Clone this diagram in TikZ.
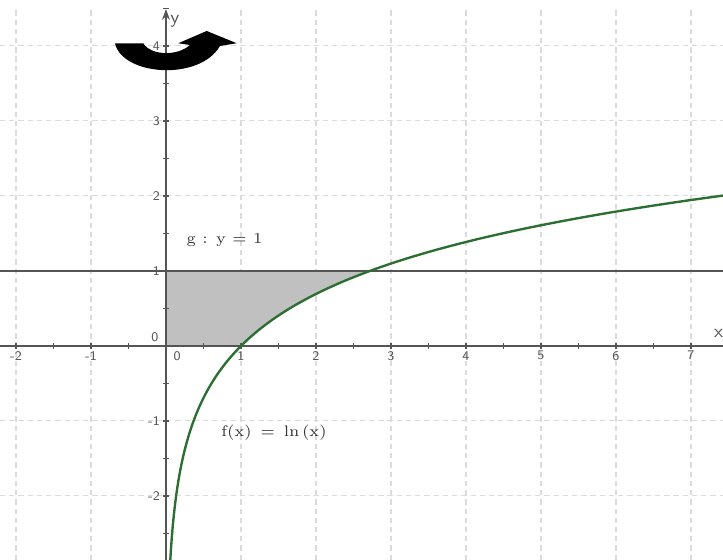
\documentclass[tikz,border=0pt]{standalone}
\usepackage{tikz}
\usetikzlibrary{arrows.meta}
\definecolor{lnGreen}{RGB}{45,110,50}
\definecolor{axGray}{RGB}{85,85,85}
\definecolor{areaGray}{RGB}{192,192,192}

\begin{document}
\begin{tikzpicture}[x=1cm, y=1cm,
    gridline/.style={gray!28, dash pattern=on 2pt off 1.5pt, line width=0.4pt},
    axisline/.style={axGray, line width=0.6pt},
    ticklbl/.style={font=\tiny\sffamily, text=axGray, inner sep=1pt},
    fnlbl/.style={font=\fontsize{5.8}{7}\selectfont, text=black!80}]
  \useasboundingbox (-2.213,-2.853) rectangle (7.427,4.613);

  % Grid
  \foreach \gx in {-2,...,7}
    \draw[gridline] (\gx,-2.853) -- (\gx,4.48);
  \foreach \gy in {-2,...,4}
    \draw[gridline] (-2.213,\gy) -- (7.427,\gy);

  % Area between y-axis, x-axis, ln and g
  \fill[areaGray] (0,0) -- (1,0) -- plot[domain=0:1, samples=40] ({exp(\x)},\x) -- (0,1) -- cycle;

  % g : y = 1
  \draw[axGray, line width=0.8pt] (-2.213,1) -- (7.427,1);

  % Axes
  \draw[axisline] (-2.213,0) -- (7.427,0);
  \draw[axisline, -{Stealth[length=4pt, width=3pt]}] (0,-2.853) -- (0,4.49);
  \node[ticklbl, font=\scriptsize\sffamily] (xname) at (7.37,0.17) {x};
  \node[ticklbl, font=\scriptsize\sffamily] (yname) at (0.12,4.33) {y};

  % x-axis ticks
  \foreach \t in {-2,-1.5,...,7}
    \draw[axisline] (\t,-0.035) -- (\t,0.035);
  \foreach \v in {-2,-1,1,2,3,4,5,6,7}
    \node[ticklbl] (xl\v) at (\v,-0.13) {\v};
  \node[ticklbl] (xl0) at (0.147,-0.13) {0};

  % y-axis ticks
  \foreach \t in {-2.5,-2,...,4.5}
    \draw[axisline] (-0.035,\t) -- (0.035,\t);
  \foreach \v in {-2,-1,1,2,3,4}
    \node[ticklbl, anchor=east] (yl\v) at (-0.04,\v) {\v};
  \node[ticklbl] (yl0) at (-0.147,0.12) {0};

  % f(x) = ln(x)
  \draw[lnGreen, line width=0.9pt] plot[domain=-2.853:2.01, samples=150] ({exp(\x)},\x);

  % Labels
  \node[fnlbl] (glbl) at (0.78,1.41) {g : y = 1};
  \node[fnlbl] (flbl) at (1.44,-1.15) {f(x) \,=\, ln\,(x)};

  % Rotation arrow
  \fill[black] (-0.68,4.036) .. controls (-0.58,3.6) and (0.45,3.53) .. (0.72,4.0)
    -- (0.943,4.036) -- (0.543,4.2) -- (0.164,4.036) -- (0.32,4.013)
    .. controls (0.15,3.86) and (-0.2,3.87) .. (-0.303,4.036) -- cycle;
\end{tikzpicture}
\end{document}
